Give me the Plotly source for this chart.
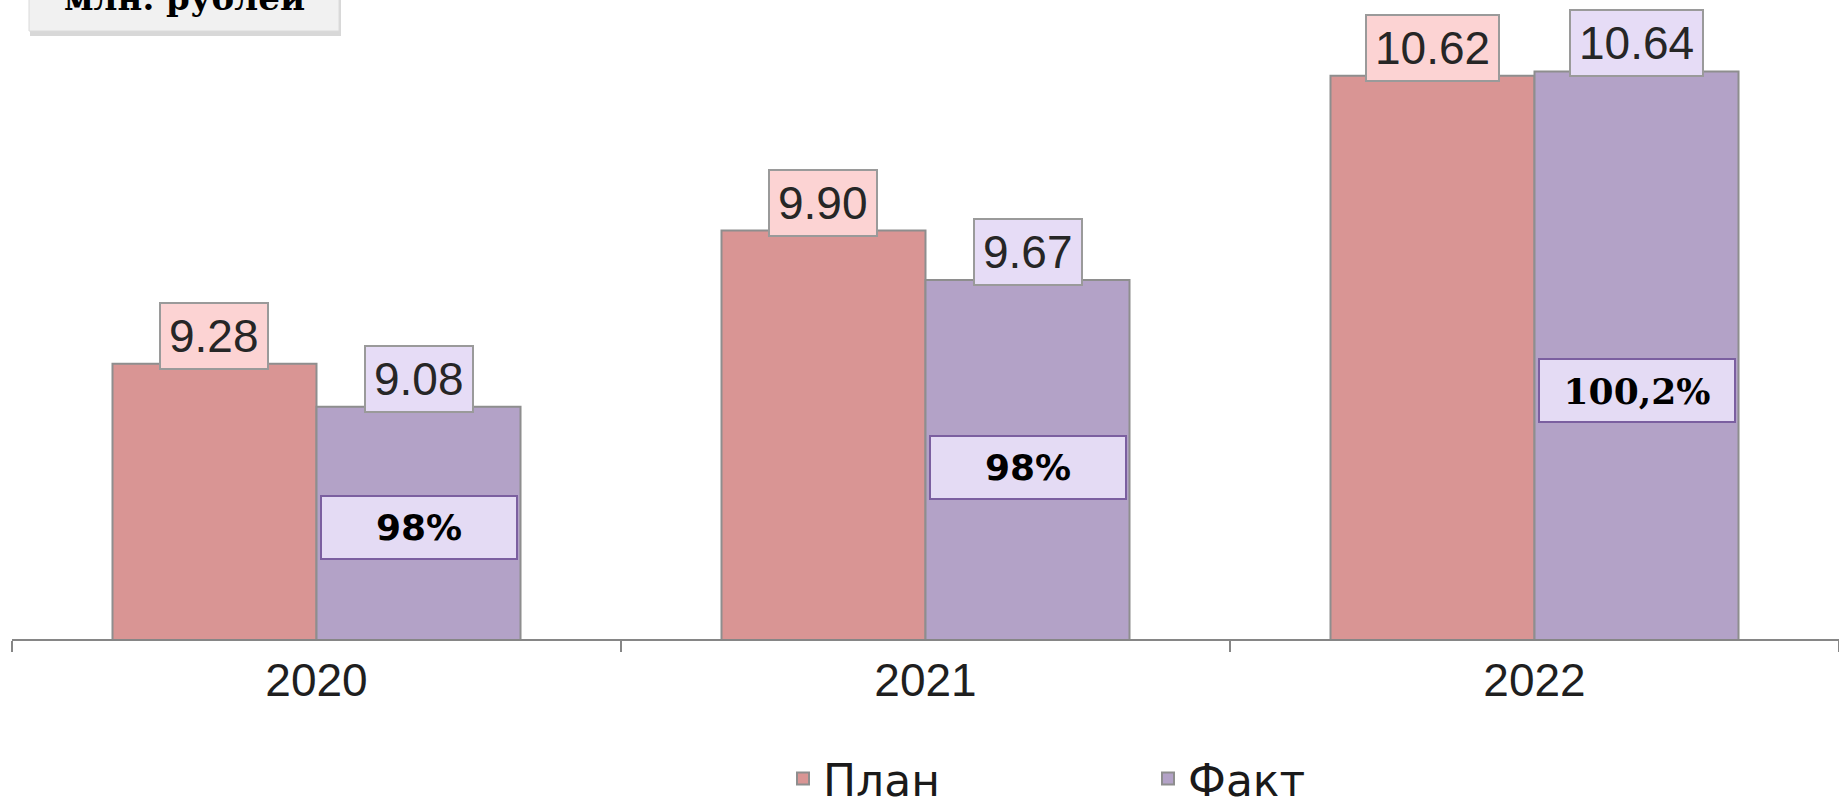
import plotly.graph_objects as go

# ---------------- data ----------------
years = ["2020", "2021", "2022"]
plan = [9.28, 9.90, 10.62]
fact = [9.08, 9.67, 10.64]
plan_labels = ["9.28", "9.90", "10.62"]
fact_labels = ["9.08", "9.67", "10.64"]
pct_labels = ["98%", "98%", "100,2%"]
series_names = ["План", "Факт"]
unit_label = "млн. рублей"

# ---------------- layout constants ----------------
W, H = 1839, 806
ML, MR, MT, MB = 12, 0, 0, 167
PW = W - ML - MR
PH = H - MT - MB
Y0 = 8.0
Y1 = Y0 + PH / 215.0
BARGAP = 0.33
OFF = (1 - BARGAP) / 4

PLAN_COLOR = "#d99594"
FACT_COLOR = "#b3a2c7"
BAR_LINE = "#8e8e8e"
AXIS_COLOR = "#868686"

pct_y_px = [527, 467, 391]
pct_fonts = ["DejaVu Sans", "DejaVu Sans", "DejaVu Serif"]


def px_x(p):
    return (p - ML) / PW


def px_y(p):
    return (H - MB - p) / PH


fig = go.Figure()
fig.add_trace(go.Bar(
    x=years, y=plan, name=series_names[0],
    marker=dict(color=PLAN_COLOR, line=dict(color=BAR_LINE, width=2)),
    hoverinfo="skip",
))
fig.add_trace(go.Bar(
    x=years, y=fact, name=series_names[1],
    marker=dict(color=FACT_COLOR, line=dict(color=BAR_LINE, width=2)),
    hoverinfo="skip",
))

annotations = []
label_font = dict(family="Liberation Sans, Arial, sans-serif", size=46, color="#262626")
for i in range(len(years)):
    annotations.append(dict(
        x=i - OFF, y=plan[i], xref="x", yref="y", text=plan_labels[i],
        showarrow=False, xanchor="center", yanchor="bottom", yshift=-6,
        font=label_font, bgcolor="#fcd3d3", bordercolor="#9a9a9a",
        borderwidth=2, borderpad=8, height=48,
    ))
    annotations.append(dict(
        x=i + OFF, y=fact[i], xref="x", yref="y", text=fact_labels[i],
        showarrow=False, xanchor="center", yanchor="bottom", yshift=-6,
        font=label_font, bgcolor="#e6dcf6", bordercolor="#9a9a9a",
        borderwidth=2, borderpad=8, height=48,
    ))
    annotations.append(dict(
        x=i + OFF, y=px_y(pct_y_px[i]), xref="x", yref="paper", text=pct_labels[i],
        showarrow=False, xanchor="center", yanchor="middle",
        font=dict(family=pct_fonts[i], size=36, color="#000000", weight="bold"),
        bgcolor="#e4dbf4", bordercolor="#7b5fa0",
        borderwidth=2, borderpad=1, width=192, height=59,
    ))

# unit label box (cut at top of the page)
box_x0, box_x1, box_y1 = 29, 339, 31
shapes = [
    dict(type="rect", xref="paper", yref="paper",
         x0=px_x(box_x0 + 1), x1=px_x(box_x1 + 2), y0=px_y(box_y1 + 5), y1=px_y(-20),
         fillcolor="#8f8f8f", opacity=0.35, line=dict(width=0), layer="above"),
    dict(type="rect", xref="paper", yref="paper",
         x0=px_x(box_x0), x1=px_x(box_x1), y0=px_y(box_y1), y1=px_y(-20),
         fillcolor="#f1f1f1", line=dict(color="#dadada", width=1), layer="above"),
]
annotations.append(dict(
    x=px_x((box_x0 + box_x1) / 2), y=px_y(19), xref="paper", yref="paper",
    text=unit_label, showarrow=False, xanchor="center", yanchor="bottom",
    font=dict(family="DejaVu Serif", size=34, color="#000000", weight="bold"),
    borderpad=0,
))

fig.update_layout(
    width=W, height=H,
    margin=dict(l=ML, r=MR, t=MT, b=MB, pad=0, autoexpand=False),
    paper_bgcolor="white", plot_bgcolor="white",
    barmode="group", bargap=BARGAP, bargroupgap=0,
    showlegend=True,
    legend=dict(
        orientation="h", x=px_x(783), xanchor="left", y=px_y(779), yanchor="middle",
        font=dict(family="DejaVu Sans, sans-serif", size=44, color="#1a1a1a"),
        entrywidth=320, bgcolor="rgba(0,0,0,0)", traceorder="normal",
    ),
    xaxis=dict(
        type="category", showline=True, linecolor=AXIS_COLOR, linewidth=2,
        ticks="outside", tickson="boundaries", ticklen=11, tickwidth=2, tickcolor=AXIS_COLOR,
        tickfont=dict(family="Liberation Sans, Arial, sans-serif", size=46, color="#1f1f1f"),
        showgrid=False, zeroline=False, fixedrange=True, automargin=False,
    ),
    yaxis=dict(range=[Y0, Y1], visible=False, fixedrange=True, automargin=False),
    annotations=annotations,
    shapes=shapes,
)

fig.write_html(
    "out.html",
    config={"displayModeBar": False},
    post_script="document.body.style.margin='0';document.body.style.overflow='hidden';",
)
